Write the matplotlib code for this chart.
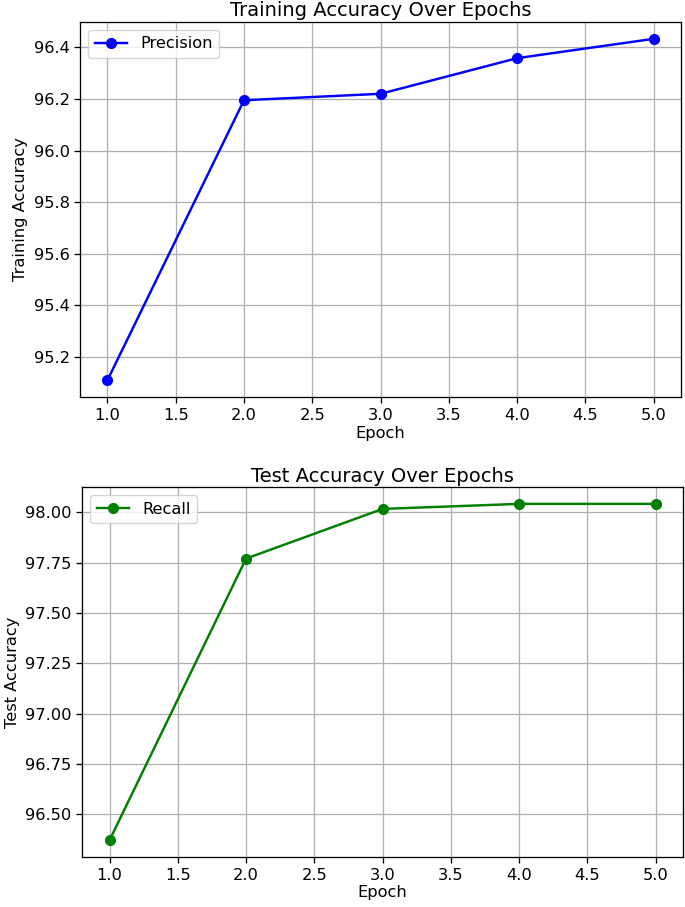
import matplotlib
matplotlib.use("Agg")
import matplotlib.pyplot as plt

# Epoch values
epochs = [1, 2, 3, 4, 5]

# Training accuracy (precision) per epoch
train_precision = [95.11, 96.195, 96.22, 96.358, 96.433]

# Test accuracy (recall) per epoch
test_recall = [96.37, 97.77, 98.017, 98.042, 98.042]

# the reference looks like an upscaled figure, so bump sizes a bit
s = 1.17
plt.rcParams['font.size'] = 10 * s
plt.rcParams['lines.linewidth'] = 1.5 * s
plt.rcParams['lines.markersize'] = 6 * s
plt.rcParams['axes.linewidth'] = 0.8 * s
plt.rcParams['grid.linewidth'] = 0.8 * s
plt.rcParams['xtick.major.width'] = 0.8 * s
plt.rcParams['ytick.major.width'] = 0.8 * s
plt.rcParams['xtick.major.size'] = 3.5 * s
plt.rcParams['ytick.major.size'] = 3.5 * s

fig = plt.figure(figsize=(6.85, 9.07), dpi=100)

# Top plot
ax1 = fig.add_axes([0.117, 0.562, 0.877, 0.414])
ax1.plot(epochs, train_precision, marker='o', color='blue', label='Precision')
ax1.set_title('Training Accuracy Over Epochs', pad=4)
ax1.set_xlabel('Epoch', labelpad=2)
ax1.set_ylabel('Training Accuracy')
ax1.legend(loc='upper left')
ax1.grid(True)

# Bottom plot
ax2 = fig.add_axes([0.120, 0.055, 0.877, 0.408])
ax2.plot(epochs, test_recall, marker='o', color='green', label='Recall')
ax2.set_title('Test Accuracy Over Epochs', pad=4)
ax2.set_xlabel('Epoch', labelpad=2)
ax2.set_ylabel('Test Accuracy')
ax2.legend(loc='upper left')
ax2.grid(True)

fig.savefig('out.png', dpi=100)
